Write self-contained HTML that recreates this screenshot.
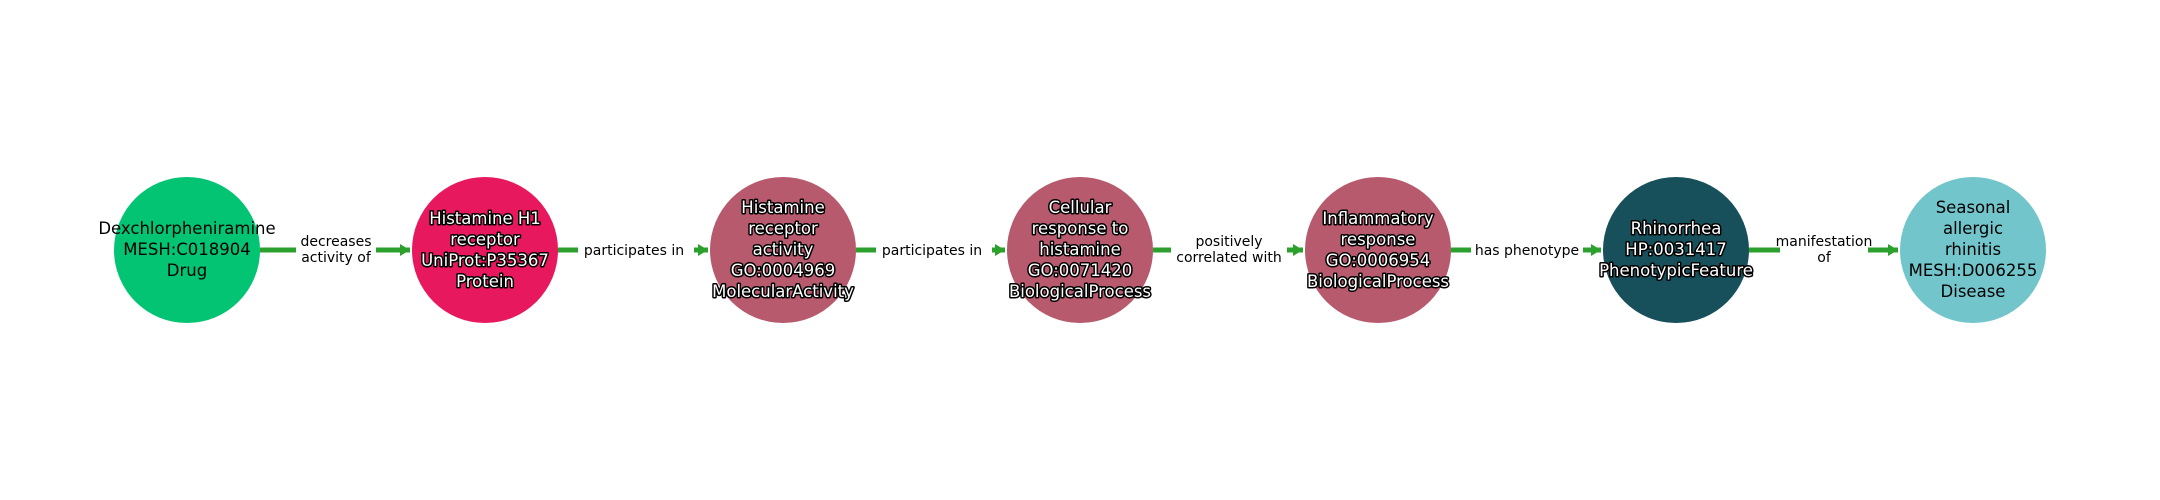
<!DOCTYPE html>
<html><head><meta charset="utf-8"><style>
html,body{margin:0;padding:0;background:#fff;}
svg{display:block;}
text{font-family:"DejaVu Sans","Liberation Sans",sans-serif;}
.n{font-size:16.5px;text-anchor:middle;}
.w{fill:#fff;stroke:#000;stroke-width:3px;paint-order:stroke;stroke-linejoin:round;}
.e{font-size:14px;text-anchor:middle;fill:#000;}
</style></head><body>
<svg width="2160" height="500" viewBox="0 0 2160 500" xmlns="http://www.w3.org/2000/svg">
<defs>
<marker id="a" markerWidth="10" markerHeight="12" refX="10" refY="6" orient="auto" markerUnits="userSpaceOnUse">
<path d="M0,0 L10,6 L0,12 z" fill="#2ca02c"/>
</marker>
</defs>
<g stroke="#2ca02c" stroke-width="5" fill="none">
<line x1="260" y1="250" x2="410" y2="250" marker-end="url(#a)"/>
<line x1="558" y1="250" x2="708" y2="250" marker-end="url(#a)"/>
<line x1="856" y1="250" x2="1005" y2="250" marker-end="url(#a)"/>
<line x1="1153" y1="250" x2="1303" y2="250" marker-end="url(#a)"/>
<line x1="1451" y1="250" x2="1601" y2="250" marker-end="url(#a)"/>
<line x1="1749" y1="250" x2="1898" y2="250" marker-end="url(#a)"/>
</g>
<g fill="#fff">
<rect x="296" y="228" width="80" height="44"/>
<rect x="578" y="238" width="116" height="24"/>
<rect x="876" y="238" width="116" height="24"/>
<rect x="1171" y="228" width="116" height="44"/>
<rect x="1471" y="238" width="112" height="24"/>
<rect x="1780" y="228" width="88" height="44"/>
</g>
<text class="e" x="336" y="246">decreases</text>
<text class="e" x="336" y="262">activity of</text>
<text class="e" x="634" y="255">participates in</text>
<text class="e" x="932" y="255">participates in</text>
<text class="e" x="1229" y="246">positively</text>
<text class="e" x="1229" y="262">correlated with</text>
<text class="e" x="1527" y="255">has phenotype</text>
<text class="e" x="1824" y="246">manifestation</text>
<text class="e" x="1824" y="262">of</text>

<circle cx="187" cy="250" r="73" fill="#02c472"/>
<circle cx="485" cy="250" r="73" fill="#e8185f"/>
<circle cx="783" cy="250" r="73" fill="#b85a6e"/>
<circle cx="1080" cy="250" r="73" fill="#b85a6e"/>
<circle cx="1378" cy="250" r="73" fill="#b85a6e"/>
<circle cx="1676" cy="250" r="73" fill="#174f5a"/>
<circle cx="1973" cy="250" r="73" fill="#72c6cb"/>

<text class="n" x="187" y="234">Dexchlorpheniramine</text>
<text class="n" x="187" y="255">MESH:C018904</text>
<text class="n" x="187" y="276">Drug</text>

<g class="n w">
<text x="485" y="224">Histamine H1</text>
<text x="485" y="245">receptor</text>
<text x="485" y="266">UniProt:P35367</text>
<text x="485" y="287">Protein</text>

<text x="783" y="213">Histamine</text>
<text x="783" y="234">receptor</text>
<text x="783" y="255">activity</text>
<text x="783" y="276">GO:0004969</text>
<text x="783" y="297">MolecularActivity</text>

<text x="1080" y="213">Cellular</text>
<text x="1080" y="234">response to</text>
<text x="1080" y="255">histamine</text>
<text x="1080" y="276">GO:0071420</text>
<text x="1080" y="297">BiologicalProcess</text>

<text x="1378" y="224">Inflammatory</text>
<text x="1378" y="245">response</text>
<text x="1378" y="266">GO:0006954</text>
<text x="1378" y="287">BiologicalProcess</text>

<text x="1676" y="234">Rhinorrhea</text>
<text x="1676" y="255">HP:0031417</text>
<text x="1676" y="276">PhenotypicFeature</text>
</g>

<text class="n" x="1973" y="213">Seasonal</text>
<text class="n" x="1973" y="234">allergic</text>
<text class="n" x="1973" y="255">rhinitis</text>
<text class="n" x="1973" y="276">MESH:D006255</text>
<text class="n" x="1973" y="297">Disease</text>
</svg>
</body></html>
